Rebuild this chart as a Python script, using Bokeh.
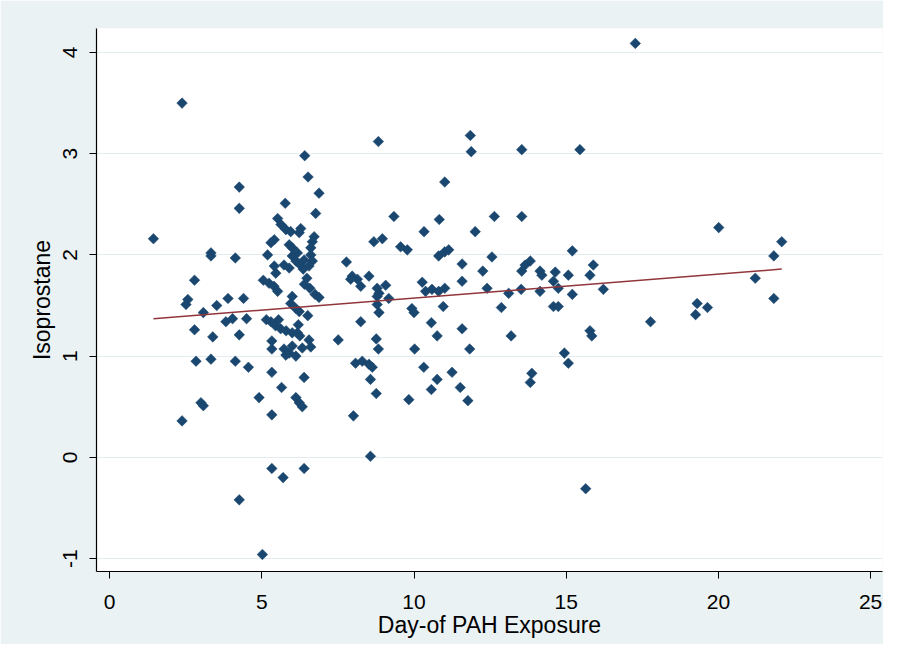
import numpy as np
from bokeh.plotting import figure
from bokeh.models import ColumnDataSource, FixedTicker, Range1d
from bokeh.embed import file_html
from bokeh.resources import INLINE

# Day-of PAH exposure (x) and isoprostane (y)
day = [1.44, 2.38, 2.38, 2.57, 2.51, 2.79, 3.08, 3.52, 3.89, 4.40, 2.79, 3.39, 3.82, 4.04, 4.50,
       4.26, 2.84, 3.33, 4.13, 4.56, 3.00, 3.08, 5.33, 5.65, 6.39, 4.91, 6.12, 6.23, 6.33, 5.33,
       5.15, 5.30, 5.45, 5.55, 5.62, 5.80, 6.00, 5.33, 5.33, 5.73, 5.90, 6.00, 6.12, 5.79, 6.20,
       6.25, 6.55, 6.61, 6.33, 6.17, 6.51, 6.00, 5.95, 6.12, 6.23, 5.05, 5.24, 5.40, 5.52, 6.36,
       6.48, 6.40, 6.58, 6.75, 6.88, 5.52, 5.63, 5.79, 5.95, 6.28, 6.23, 5.41, 5.30, 6.72, 6.66,
       6.61, 6.61, 6.66, 6.55, 5.90, 6.00, 6.17, 6.00, 5.19, 6.39, 6.23, 6.12, 5.41, 5.73, 5.90,
       5.46, 5.77, 6.41, 6.52, 6.88, 4.26, 4.26, 6.77, 3.33, 3.33, 4.13, 5.33, 5.70, 6.39, 4.26,
       5.02, 7.78, 7.97, 8.14, 7.92, 8.25, 8.52, 8.79, 9.07, 8.85, 8.79, 9.17, 8.83, 11.85, 11.88,
       11.01, 9.34, 10.83, 12.64, 13.54, 10.33, 12.01, 8.68, 8.96, 9.56, 9.78, 10.81, 11.01, 11.14,
       12.56, 11.58, 12.26, 11.58, 10.27, 10.38, 10.59, 10.81, 11.01, 12.40, 13.11, 8.25, 8.79,
       8.85, 9.93, 10.00, 10.96, 10.57, 10.76, 11.58, 12.87, 13.19, 7.51, 8.76, 8.83, 10.02, 11.83,
       8.08, 8.30, 8.52, 8.63, 8.57, 8.76, 10.32, 10.76, 10.57, 11.25, 11.52, 11.77, 9.83, 8.01,
       8.57, 13.54, 15.45, 15.20, 13.82, 13.65, 13.54, 14.14, 14.20, 14.64, 14.58, 14.74, 15.07,
       15.89, 15.78, 13.52, 14.14, 15.20, 16.22, 14.58, 14.74, 15.78, 15.84, 17.77, 19.30, 19.25,
       19.64, 14.94, 15.07, 13.87, 13.82, 15.64, 20.01, 22.08, 21.82, 21.21, 21.82, 17.27]

iso = [2.16, 3.50, 0.36, 1.56, 1.51, 1.75, 1.43, 1.50, 1.57, 1.57, 1.26, 1.19, 1.34, 1.37, 1.37,
       1.21, 0.95, 0.97, 0.95, 0.89, 0.54, 0.51, 0.84, 0.69, 0.79, 0.59, 0.59, 0.54, 0.50, 0.42,
       1.36, 1.34, 1.30, 1.36, 1.27, 1.25, 1.23, 1.15, 1.07, 1.07, 1.03, 1.10, 1.00, 1.01, 1.31,
       1.20, 1.16, 1.09, 1.08, 1.23, 1.40, 1.59, 1.52, 1.47, 1.44, 1.75, 1.72, 1.69, 1.64, 1.86,
       1.77, 1.71, 1.67, 1.61, 1.58, 2.36, 2.30, 2.25, 2.23, 2.26, 2.22, 2.15, 2.12, 2.18, 2.13,
       2.07, 2.00, 1.94, 1.89, 2.10, 2.07, 2.02, 1.99, 2.00, 1.95, 1.91, 1.94, 1.89, 1.90, 1.87,
       1.82, 2.51, 2.98, 2.77, 2.61, 2.67, 2.46, 2.41, 2.02, 1.99, 1.97, -0.11, -0.20, -0.11, -0.42,
       -0.96, 1.93, 1.79, 1.76, 1.76, 1.69, 1.79, 1.67, 1.70, 1.62, 1.59, 1.57, 3.12, 3.18, 3.02,
       2.72, 2.38, 2.35, 2.38, 2.38, 2.23, 2.23, 2.13, 2.16, 2.08, 2.05, 1.99, 2.03, 2.05,
       1.98, 1.91, 1.84, 1.74, 1.73, 1.64, 1.66, 1.64, 1.67, 1.67, 1.62, 1.34, 1.51,
       1.43, 1.47, 1.43, 1.49, 1.33, 1.20, 1.27, 1.48, 1.20, 1.16, 1.17, 1.07, 1.07, 1.07,
       0.93, 0.95, 0.92, 0.89, 0.77, 0.63, 0.89, 0.77, 0.67, 0.84, 0.69, 0.56, 0.57, 0.41,
       0.01, 3.04, 3.04, 2.04, 1.94, 1.90, 1.84, 1.84, 1.80, 1.83, 1.74, 1.67, 1.80,
       1.90, 1.80, 1.66, 1.64, 1.61, 1.66, 1.49, 1.49, 1.25, 1.20, 1.34, 1.52, 1.41,
       1.48, 1.03, 0.93, 0.83, 0.74, -0.31, 2.27, 2.13, 1.99, 1.77, 1.57, 4.09]

# Fitted line end points
fit_x = [1.44, 22.08]
fit_y = [1.37, 1.86]

x_ticks = [0, 5, 10, 15, 20, 25]
y_ticks = [-1, 0, 1, 2, 3, 4]
y_tick_labels = {t: str(t) for t in y_ticks}

BG = "#eaf2f3"
NAVY = "#1a476f"
MAROON = "#90353b"
FONT = "Liberation Sans"

p = figure(width=883, height=644, output_backend="svg", toolbar_location=None,
           x_range=Range1d(-0.43, 25.39), y_range=Range1d(-1.128, 4.237),
           min_border_left=96, min_border_right=1, min_border_top=28, min_border_bottom=73)

p.background_fill_color = "white"
p.border_fill_color = BG
p.outline_line_color = None

src = ColumnDataSource(dict(x=day, y=iso))
p.scatter("x", "y", source=src, marker="square", angle=np.pi / 4, size=7.5,
          fill_color=NAVY, line_color=NAVY, line_width=0.5)
p.line(fit_x, fit_y, line_color=MAROON, line_width=1.5)

p.xgrid.grid_line_color = None
p.ygrid.grid_line_color = "#e3ecee"
p.ygrid.grid_line_width = 1.2
p.ygrid.ticker = FixedTicker(ticks=y_ticks)

p.xaxis.ticker = FixedTicker(ticks=x_ticks)
p.yaxis.ticker = FixedTicker(ticks=y_ticks)
p.yaxis.major_label_overrides = y_tick_labels

for ax in (p.xaxis[0], p.yaxis[0]):
    ax.axis_line_color = "black"
    ax.axis_line_width = 1.2
    ax.major_tick_line_color = "black"
    ax.major_tick_in = 0
    ax.major_tick_out = 7
    ax.minor_tick_line_color = None
    ax.major_label_text_font = FONT
    ax.major_label_text_font_size = "21px"
    ax.major_label_text_color = "black"
    ax.axis_label_text_font = FONT
    ax.axis_label_text_font_size = "23px"
    ax.axis_label_text_font_style = "normal"
    ax.axis_label_text_color = "black"

p.xaxis.axis_label = "Day-of PAH Exposure"
p.yaxis.axis_label = "Isoprostane"
p.yaxis.major_label_orientation = "vertical"
p.xaxis.major_label_standoff = 16
p.yaxis.major_label_standoff = 12
p.xaxis.axis_label_standoff = 0
p.yaxis.axis_label_standoff = 6

open("out.html", "w").write(file_html(p, INLINE))
